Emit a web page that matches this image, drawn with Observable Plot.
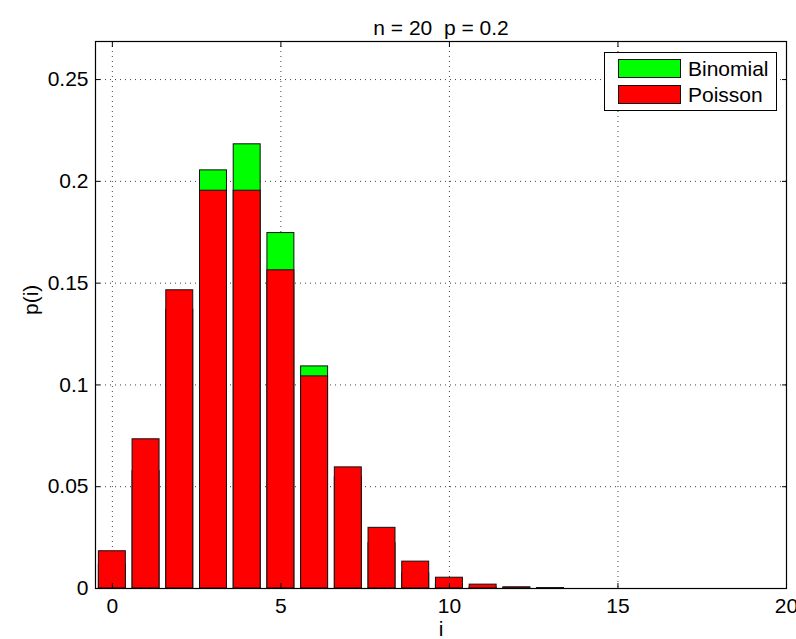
<!DOCTYPE html>
<html><head><meta charset="utf-8">
<script src="https://cdn.jsdelivr.net/npm/d3@7"></script>
<script src="https://cdn.jsdelivr.net/npm/@observablehq/plot@0.6"></script>
<style>
body{margin:0;background:#fff}
#chart{position:relative;width:796px;height:639px}
</style>
</head><body><div id="chart"></div>
<script>
const iValues = [0,1,2,3,4,5,6,7,8,9,10,11,12,13,14,15,16,17,18,19,20];
const binomial = [0.0115,0.0576,0.1369,0.2054,0.2182,0.1746,0.1091,0.0546,0.0222,0.0074,0.0020,0.0005,0.0001,0.00001,0,0,0,0,0,0,0];
const poisson  = [0.0183,0.0733,0.1465,0.1954,0.1954,0.1563,0.1042,0.0595,0.0298,0.0132,0.0053,0.0019,0.0006,0.0002,0,0,0,0,0,0,0];
const seriesNames = ["Binomial","Poisson"];
const seriesColors = ["#00ff00","#ff0000"];
const xTicks = [0,5,10,15,20];
const yTicks = [0,0.05,0.1,0.15,0.2,0.25];
const yTickLabels = ["0","0.05","0.1","0.15","0.2","0.25"];
const titleText = "n = 20\u00a0 p = 0.2";
const xLabel = "i";
const yLabel = "p(i)";

const data = iValues.map((i,k)=>({i, binom: binomial[k], pois: poisson[k]}));
const halfW = 0.4;
const FS = 21;
const FONT = "'Liberation Sans', Arial, Helvetica, sans-serif";

const plot = Plot.plot({
  width: 796, height: 639,
  marginLeft: 95, marginRight: 10, marginTop: 41, marginBottom: 51,
  style: {fontFamily: FONT, fontSize: FS + "px", background: "#fff", color: "#000"},
  x: {type: "linear", domain: [-0.5, 20]},
  y: {type: "linear", domain: [0, 0.2687]},
  marks: [
    Plot.gridX(xTicks, {stroke: "#000", strokeOpacity: 0.75, strokeDasharray: "1,4"}),
    Plot.gridY(yTicks.slice(1), {stroke: "#000", strokeOpacity: 0.75, strokeDasharray: "1,4"}),
    Plot.rectY(data, {x1: d => d.i - halfW, x2: d => d.i + halfW, y: "binom", fill: seriesColors[0], stroke: "#111", strokeWidth: 1, clip: true}),
    Plot.rectY(data, {x1: d => d.i - halfW, x2: d => d.i + halfW, y: "pois", fill: seriesColors[1], stroke: "#111", strokeWidth: 1, clip: true}),
    Plot.frame({stroke: "#000", strokeWidth: 1.2}),
    Plot.axisX(xTicks, {anchor: "bottom", tickSize: 0, tickPadding: 10, fontSize: FS, label: null}),
    Plot.axisX(xTicks, {anchor: "bottom", tickSize: 5, dy: -5, tickFormat: () => "", label: null}),
    Plot.axisX(xTicks, {anchor: "top", tickSize: 5, dy: 5, tickFormat: () => "", label: null}),
    Plot.axisY(yTicks, {anchor: "left", tickSize: 0, tickPadding: 7, fontSize: FS, tickFormat: d => yTickLabels[yTicks.indexOf(d)], label: null}),
    Plot.axisY(yTicks, {anchor: "left", tickSize: 5, dx: 5, tickFormat: () => "", label: null}),
    Plot.axisY(yTicks, {anchor: "right", tickSize: 5, dx: -5, tickFormat: () => "", label: null}),
    Plot.text([titleText], {text: d => d, frameAnchor: "top", dy: -21, fontSize: FS}),
    Plot.text([yLabel], {text: d => d, frameAnchor: "left", dx: -64, rotate: -90, fontSize: FS}),
    Plot.text([xLabel], {text: d => d, frameAnchor: "bottom", dy: 47, fontSize: FS})
  ]
});
document.getElementById("chart").appendChild(plot);

// Legend (inside the axes, top-right)
const svg = d3.select(plot);
const lg = svg.append("g").attr("font-family", FONT).attr("font-size", FS).attr("text-anchor", "start");
lg.append("rect").attr("x", 604.5).attr("y", 52.5).attr("width", 172).attr("height", 58)
  .attr("fill", "#fff").attr("stroke", "#000").attr("stroke-width", 1);
seriesNames.forEach((name, k) => {
  const yTop = 59 + k * 26;
  lg.append("rect").attr("x", 618.5).attr("y", yTop + 0.5).attr("width", 62).attr("height", 18)
    .attr("fill", seriesColors[k]).attr("stroke", "#111").attr("stroke-width", 1);
  lg.append("text").attr("x", 688).attr("y", yTop + 9).attr("dy", "0.36em").attr("fill", "#000").text(name);
});
</script>
</body></html>
